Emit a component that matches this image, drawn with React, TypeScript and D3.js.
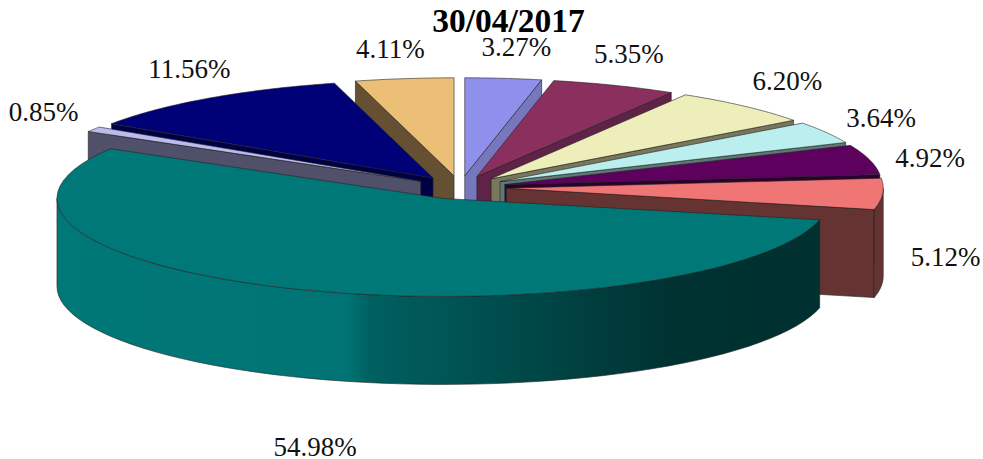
import React from "react";
import * as d3 from "d3";

const sliceLabels = ["3.27%", "5.35%", "6.20%", "3.64%", "4.92%", "5.12%", "54.98%", "0.85%", "11.56%", "4.11%"];
const sliceValues = [3.27, 5.35, 6.2, 3.64, 4.92, 5.12, 54.98, 0.85, 11.56, 4.11];
const topColors = ["#8f8fec", "#8b2f5f", "#eeeebb", "#bbeeee", "#5e005e", "#f07676", "#007878", "#bbbbee", "#000077", "#ecbf77"];
const sideColors = ["#7777bd", "#5f2348", "#77775c", "#5e7777", "#2e002e", "#663333", "#004444", "#50506a", "#000044", "#665033"];
const drawOrder = [0, 9, 1, 8, 2, 7, 3, 4, 5, 6];
const labelNudges: [number, number][] = [[12, -31], [11, -31], [37, -25], [47, -14], [52, -2], [54, 63], [14, 157], [-50, -17], [-19, -29], [-14, -30]];
const titleText = "30/04/2017";

const W = 983, H = 459;
const CX = 460, CY = 187.5, RX = 386, RX_RIGHT = 377, RY = 98, DEPTH = 88, EXPLODE = 0.12;

export default function App() {
  const arcs = d3.pie<number>().sort(null).startAngle(0).endAngle(2 * Math.PI)(sliceValues);
  const line = d3.line<[number, number]>();

  const geo = arcs.map((a) => {
    const mid = (a.startAngle + a.endAngle) / 2;
    const rx = a.endAngle <= Math.PI ? RX_RIGHT : RX;
    const ox = CX + Math.sin(mid) * RX * EXPLODE;
    const oy = CY - Math.cos(mid) * RY * EXPLODE;
    const pt = (t: number, dz = 0): [number, number] => [ox + Math.sin(t) * rx, oy - Math.cos(t) * RY + dz];
    const sweep = (t0: number, t1: number, dz = 0) =>
      d3.range(0, 61).map((i) => pt(t0 + ((t1 - t0) * i) / 60, dz));
    const top = (line([[ox, oy], ...sweep(a.startAngle, a.endAngle)]) ?? "") + "Z";
    const faceAngle = a.endAngle <= Math.PI ? a.endAngle : a.startAngle;
    const face = a.startAngle < Math.PI && a.endAngle > Math.PI
      ? null
      : (line([[ox, oy], pt(faceAngle), pt(faceAngle, DEPTH), [ox, oy + DEPTH]]) ?? "") + "Z";
    const w0 = Math.max(a.startAngle, Math.PI / 2);
    const w1 = Math.min(a.endAngle, (3 * Math.PI) / 2);
    const wall = w1 > w0
      ? (line([...sweep(w0, w1), ...sweep(w0, w1, DEPTH).reverse()]) ?? "") + "Z"
      : null;
    const label: [number, number] = [ox + Math.sin(mid) * RX, oy - Math.cos(mid) * RY];
    return { top, face, wall, label };
  });

  return (
    <svg width={W} height={H} viewBox={`0 0 ${W} ${H}`} style={{ position: "absolute", left: 0, top: 0, background: "#fff" }}>
      <defs>
        <linearGradient id="tealWall" gradientUnits="userSpaceOnUse" x1={57} x2={820} y1={0} y2={0}>
          <stop offset="0" stopColor="#007878" />
          <stop offset="0.38" stopColor="#007474" />
          <stop offset="0.41" stopColor="#006060" />
          <stop offset="0.55" stopColor="#005050" />
          <stop offset="0.8" stopColor="#003232" />
          <stop offset="1" stopColor="#003030" />
        </linearGradient>
      </defs>
      {drawOrder.map((i) => (
        <g key={i} stroke="#222" strokeWidth={0.6} strokeLinejoin="round">
          {geo[i].face && <path d={geo[i].face!} fill={sideColors[i]} />}
          {geo[i].wall && <path d={geo[i].wall!} fill={i === 6 ? "url(#tealWall)" : sideColors[i]} />}
          <path d={geo[i].top} fill={topColors[i]} />
        </g>
      ))}
      <text x={508.5} y={32} textAnchor="middle" fontFamily="Liberation Serif" fontWeight="bold" fontSize={33.5} fill="#000">{titleText}</text>
      {sliceLabels.map((s, i) => (
        <text key={s} x={geo[i].label[0] + labelNudges[i][0]} y={geo[i].label[1] + labelNudges[i][1] + 9}
          textAnchor="middle" fontFamily="Liberation Serif" fontSize={27} fill="#111">{s}</text>
      ))}
    </svg>
  );
}
